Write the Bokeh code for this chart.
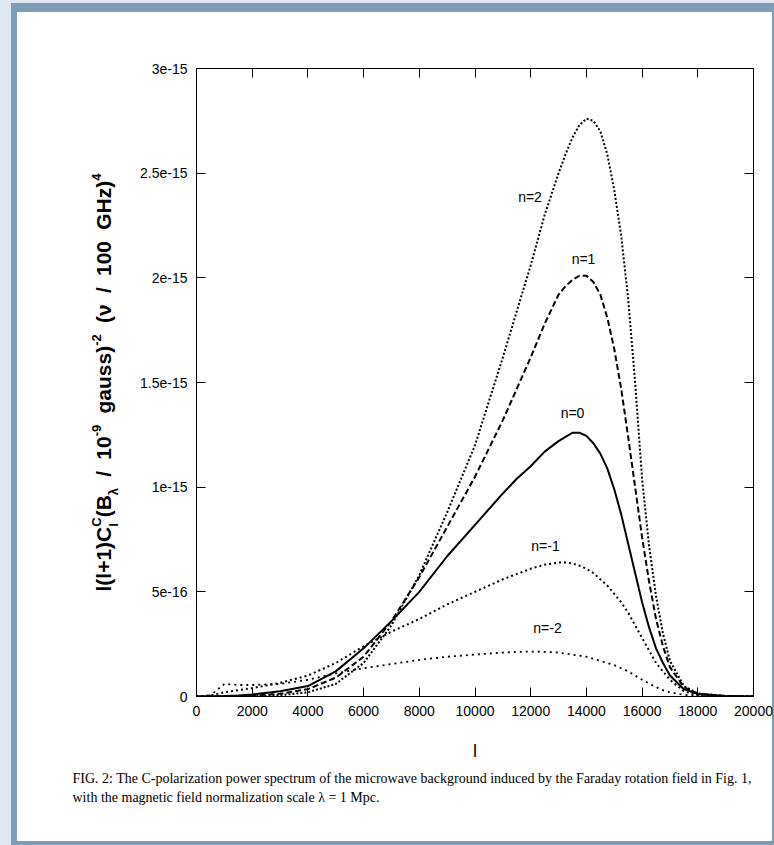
import math
from bokeh.plotting import figure
from bokeh.models import Range1d, FixedTicker, LinearAxis, Label, CustomJSTickFormatter, Title
from bokeh.embed import file_html
from bokeh.resources import INLINE

# ---------------- data (values in units of 1e-15) ----------------
L = [0, 500, 1000, 1500, 2000, 3000, 4000, 5000, 6000, 7000, 8000, 9000, 10000,
     11000, 11500, 12000, 12500, 13000, 13250, 13500, 13750, 14000, 14250, 14500,
     14750, 15000, 15250, 15500, 15750, 16000, 16250, 16500, 16750, 17000, 17500,
     18000, 19000, 20000]
N2 = [0, 0, 0, 0.001, 0.002, 0.006, 0.02, 0.06, 0.16, 0.34, 0.58, 0.88, 1.20,
      1.62, 1.84, 2.06, 2.30, 2.50, 2.59, 2.67, 2.73, 2.76, 2.75, 2.70,
      2.59, 2.42, 2.20, 1.90, 1.50, 1.04, 0.72, 0.48, 0.30, 0.17, 0.05,
      0.015, 0.002, 0]
N1 = [0, 0, 0.001, 0.002, 0.004, 0.013, 0.035, 0.09, 0.19, 0.36, 0.57, 0.81, 1.05,
      1.32, 1.47, 1.62, 1.78, 1.92, 1.96, 1.99, 2.01, 2.01, 1.98, 1.92,
      1.81, 1.66, 1.47, 1.24, 1.00, 0.76, 0.55, 0.37, 0.24, 0.14, 0.045,
      0.013, 0.002, 0]
N0 = [0, 0, 0.002, 0.005, 0.01, 0.025, 0.05, 0.12, 0.23, 0.36, 0.50, 0.67, 0.82,
      0.97, 1.04, 1.10, 1.17, 1.22, 1.24, 1.26, 1.26, 1.245, 1.21, 1.16,
      1.09, 0.99, 0.87, 0.73, 0.59, 0.45, 0.33, 0.23, 0.16, 0.10, 0.035,
      0.012, 0.002, 0]
NM1 = [0, 0.005, 0.02, 0.03, 0.04, 0.065, 0.10, 0.16, 0.24, 0.31, 0.37, 0.44, 0.50,
       0.56, 0.585, 0.61, 0.63, 0.64, 0.64, 0.635, 0.625, 0.61, 0.59, 0.56,
       0.53, 0.49, 0.45, 0.40, 0.34, 0.28, 0.22, 0.16, 0.12, 0.08, 0.025,
       0.006, 0, 0]
NM2 = [0, 0.005, 0.06, 0.055, 0.055, 0.06, 0.08, 0.11, 0.135, 0.155, 0.175, 0.19, 0.20,
       0.21, 0.213, 0.215, 0.213, 0.21, 0.205, 0.20, 0.195, 0.19, 0.18, 0.17,
       0.16, 0.15, 0.135, 0.12, 0.10, 0.08, 0.062, 0.045, 0.03, 0.02, 0.008,
       0.002, 0, 0]

SERIES_NAMES = ["n=2", "n=1", "n=0", "n=-1", "n=-2"]
XTICKS = [0, 2000, 4000, 6000, 8000, 10000, 12000, 14000, 16000, 18000, 20000]
YTICKS = [0.0, 0.5, 1.0, 1.5, 2.0, 2.5, 3.0]
YTICK_LABELS = ["0", "5e-16", "1e-15", "1.5e-15", "2e-15", "2.5e-15", "3e-15"]
X_LABEL = "l"
CAPTION_1 = "FIG. 2: The C-polarization power spectrum of the microwave background induced by the Faraday rotation field in Fig. 1,"
CAPTION_2 = "with the magnetic field normalization scale \u03bb = 1 Mpc."
# y label pieces: (text, role); a leading space in a piece marks a word gap
YLABEL_PIECES = [
    ("l(l+1)C", "main"), (("C", "l"), "stack"), ("(B", "main"), ("\u03bb", "sub"),
    (" /", "main"), (" 10", "main"), ("-9", "sup"), (" gauss)", "main"), ("-2", "sup"),
    (" (\u03bd", "main"), (" /", "main"), (" 100", "main"), (" GHz)", "main"), ("4", "sup"),
]

# ---------------- layout ----------------
W, H = 774, 845
FL, FR, FT, FB = 196, 753, 68, 696
XMIN, XMAX, YMIN, YMAX = 0, 20000, 0.0, 3.0

SANS = "'Liberation Sans', Arial, sans-serif"
SERIF = "'Liberation Serif', 'DejaVu Serif', serif"

p = figure(width=W, height=H, output_backend="svg", toolbar_location=None,
           x_range=Range1d(XMIN, XMAX), y_range=Range1d(YMIN, YMAX),
           min_border_left=FL, min_border_right=W - FR,
           min_border_top=FT, min_border_bottom=H - FB)
p.border_fill_color = None
p.background_fill_color = "white"
p.outline_line_color = "black"
p.outline_line_width = 1
p.grid.visible = False
p.styles = {
    "background-color": "white",
    "box-shadow": "inset 11px 3px 0 0 #dde8f2, inset 17px 12px 0 0 #7d9cb7, inset -2px -4px 0 0 #7d9cb7",
}

bottom = p.below[0]
left = p.left[0]
bottom.ticker = FixedTicker(ticks=XTICKS)
left.ticker = FixedTicker(ticks=YTICKS)
left.major_label_overrides = {v: t for v, t in zip(YTICKS, YTICK_LABELS)}

top = LinearAxis(ticker=FixedTicker(ticks=XTICKS),
                 formatter=CustomJSTickFormatter(code="return ''"))
right = LinearAxis(ticker=FixedTicker(ticks=YTICKS),
                   formatter=CustomJSTickFormatter(code="return ''"))
p.add_layout(top, "above")
p.add_layout(right, "right")

for ax in (bottom, left, top, right):
    ax.major_tick_in = 9
    ax.major_tick_out = 0
    ax.minor_tick_line_color = None
    ax.axis_line_color = "black"
    ax.major_tick_line_color = "black"
    ax.major_label_text_font = SANS
    ax.major_label_text_font_size = "14px"
    ax.major_label_text_color = "black"
    ax.major_label_standoff = 9
for ax in (top, right):
    ax.major_label_standoff = 0
    ax.major_label_text_font_size = "1px"

bottom.axis_label = X_LABEL
bottom.axis_label_text_font = SANS
bottom.axis_label_text_font_size = "18px"
bottom.axis_label_text_font_style = "normal"
bottom.axis_label_text_color = "black"
bottom.axis_label_standoff = 22

# ---------------- caption (titles below the x axis) ----------------
cap1 = Title(text=CAPTION_1, align="left", offset=72 - FL, text_font=SERIF,
             text_font_size="14px", text_font_style="normal", text_color="black",
             standoff=10)
cap2 = Title(text=CAPTION_2, align="left", offset=72 - FL, text_font=SERIF,
             text_font_size="14px", text_font_style="normal", text_color="black",
             standoff=-5)
p.add_layout(cap1, "below")
p.add_layout(cap2, "below")

# ---------------- curves ----------------
styles = [
    (N2, "2 2", 2.0),
    (N1, "6 3", 2.0),
    (N0, "solid", 2.0),
    (NM1, "2 3", 2.0),
    (NM2, "2 4", 1.8),
]
for ys, dash, lw in styles:
    p.line(L, ys, line_color="black", line_width=lw, line_dash=dash)


def dx(px):
    return XMIN + (px - FL) / (FR - FL) * (XMAX - XMIN)


def dy(py):
    return YMIN + (FB - py) / (FB - FT) * (YMAX - YMIN)


lab_pos = [(529.5, 196), (583, 258), (572, 412), (545, 545), (547, 627)]
for name, (sx, sy) in zip(SERIES_NAMES, lab_pos):
    p.add_layout(Label(x=dx(sx), y=dy(sy), text=name, text_font=SANS,
                       text_font_size="14px", text_align="center",
                       text_baseline="middle", text_color="black"))

# ---------------- y-axis label: rotated pieces carried by label-only axes ----------------
AW = {' ': 278, '(': 333, ')': 333, '+': 584, '/': 278, '-': 333, 'l': 278, 'C': 722,
      'B': 722, 'g': 611, 'a': 556, 'u': 611, 's': 556, 'G': 778, 'H': 722, 'z': 500,
      '\u03bd': 556, '\u03bb': 556, '0': 556, '1': 556, '2': 556, '4': 556, '9': 556}
FM, FS = 21, 13
LABEL_SPAN = 418.0
LABEL_CENTER = (FT + FB) / 2.0


def wid(t, f):
    return sum(AW.get(c, 556) for c in t) * f / 1000.0


def piece_len(txt, role):
    if role == "main":
        return wid(txt.strip(), FM)
    if role == "stack":
        return max(wid(txt[0], FS), wid(txt[1], FS))
    return wid(txt, FS)


n_gaps = sum(1 for t, r in YLABEL_PIECES if r == "main" and t.startswith(" "))
natural = sum(piece_len(t, r) for t, r in YLABEL_PIECES) + n_gaps * wid(" ", FM)
gap = wid(" ", FM) + (LABEL_SPAN - natural) / max(n_gaps, 1)

groups = {"main": {}, "sup": {}, "sub": {}}
ycur = LABEL_CENTER + LABEL_SPAN / 2.0
for txt, role in YLABEL_PIECES:
    if role == "main" and txt.startswith(" "):
        ycur -= gap
    if role == "stack":
        groups["sup"][dy(ycur - wid(txt[0], FS) / 2)] = txt[0]
        groups["sub"][dy(ycur - wid(txt[1], FS) / 2)] = txt[1]
    else:
        w = piece_len(txt, role)
        groups[role][dy(ycur - w / 2)] = txt.strip()
    ycur -= piece_len(txt, role)


def text_axis(labels, size, standoff):
    ax = LinearAxis(ticker=FixedTicker(ticks=sorted(labels.keys())),
                    major_label_overrides=labels,
                    major_label_orientation="vertical",
                    major_label_standoff=standoff,
                    major_label_text_font=SANS,
                    major_label_text_font_size=f"{size}px",
                    major_label_text_font_style="bold",
                    major_label_text_color="black",
                    axis_line_color=None, major_tick_line_color=None,
                    minor_tick_line_color=None, major_tick_in=0, major_tick_out=0)
    p.add_layout(ax, "left")
    return ax


text_axis(groups["sub"], FS, 16)
text_axis(groups["main"], FM, -12)
text_axis(groups["sup"], FS, -15)

open("out.html", "w").write(file_html(p, INLINE))
